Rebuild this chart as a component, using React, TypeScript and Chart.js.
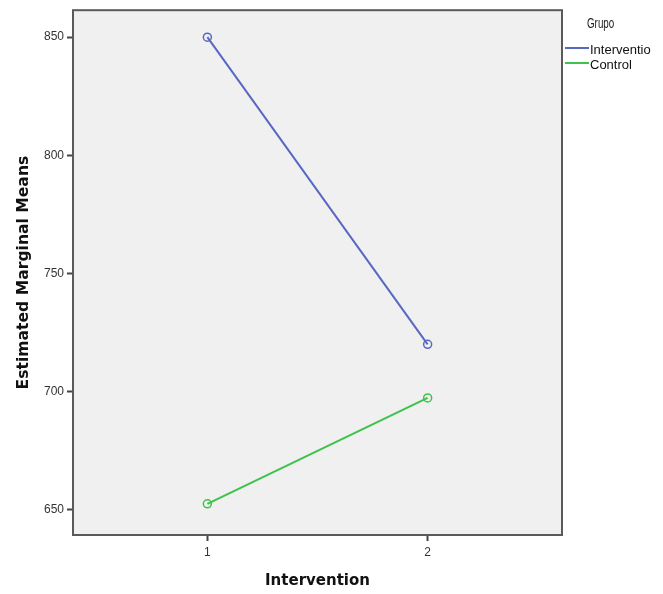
import React, { useEffect, useRef } from "react";
import { Chart, registerables } from "chart.js";

Chart.register(...registerables);

const groups = ["Interventio", "Control"];
const xCategories = [1, 2];
const interventionMeans = [850, 720];
const controlMeans = [652.5, 697.3];
const yTicks = [650, 700, 750, 800, 850];
const groupColors = ["#5868c2", "#3ec24c"];

const bgBorderPlugin = {
  id: "bgBorder",
  beforeDraw(chart: any) {
    const { ctx, chartArea: a } = chart;
    ctx.save();
    ctx.fillStyle = "#f0f0f0";
    ctx.fillRect(a.left, a.top, a.right - a.left, a.bottom - a.top);
    ctx.restore();
  },
  afterDraw(chart: any) {
    const { ctx, chartArea: a } = chart;
    ctx.save();
    ctx.strokeStyle = "#5a5a5a";
    ctx.lineWidth = 2;
    ctx.strokeRect(a.left, a.top, a.right - a.left, a.bottom - a.top);
    // legend
    ctx.fillStyle = "#222";
    ctx.textBaseline = "middle";
    ctx.textAlign = "left";
    ctx.save();
    ctx.translate(587, 24);
    ctx.scale(0.7, 1);
    ctx.font = "14px 'Liberation Sans', Arial";
    ctx.fillText("Grupo", 0, 0);
    ctx.restore();
    ctx.font = "13px 'Liberation Sans', Arial";
    const ys = [48, 63];
    groups.forEach((g, i) => {
      ctx.strokeStyle = groupColors[i];
      ctx.lineWidth = 2;
      ctx.beginPath();
      ctx.moveTo(565, ys[i]);
      ctx.lineTo(589, ys[i]);
      ctx.stroke();
      ctx.fillStyle = "#111";
      ctx.fillText(g, 590, ys[i] + 2);
    });
    ctx.restore();
  },
};

export default function App() {
  const ref = useRef<HTMLCanvasElement>(null);
  useEffect(() => {
    const canvas = ref.current!;
    const chart = new Chart(canvas, {
      type: "line",
      data: {
        datasets: [
          {
            label: groups[0],
            data: xCategories.map((x, i) => ({ x, y: interventionMeans[i] })),
            borderColor: groupColors[0],
            backgroundColor: "rgba(0,0,0,0)",
            borderWidth: 2,
            pointRadius: 4,
            pointBorderWidth: 1.5,
            pointBorderColor: groupColors[0],
            pointBackgroundColor: "rgba(0,0,0,0)",
          },
          {
            label: groups[1],
            data: xCategories.map((x, i) => ({ x, y: controlMeans[i] })),
            borderColor: groupColors[1],
            backgroundColor: "rgba(0,0,0,0)",
            borderWidth: 2,
            pointRadius: 4,
            pointBorderWidth: 1.5,
            pointBorderColor: groupColors[1],
            pointBackgroundColor: "rgba(0,0,0,0)",
          },
        ],
      },
      options: {
        responsive: false,
        animation: false,
        devicePixelRatio: 1,
        layout: { padding: { top: 7, right: 101, left: 0, bottom: 0 } },
        plugins: { legend: { display: false }, tooltip: { enabled: false } },
        scales: {
          x: {
            type: "linear",
            min: 0.39,
            max: 2.61,
            afterBuildTicks: (s: any) => {
              s.ticks = xCategories.map((v) => ({ value: v }));
            },
            afterFit: (s: any) => {
              s.height = 59;
            },
            grid: {
              drawOnChartArea: false,
              drawTicks: true,
              tickLength: 6,
              tickWidth: 2,
              tickColor: "#444",
            },
            border: { display: false },
            ticks: {
              padding: 4,
              color: "#333",
              font: { family: "'Liberation Sans', Arial", size: 12 },
            },
            title: {
              display: true,
              text: "Intervention",
              color: "#111",
              font: { family: "'DejaVu Sans'", size: 15, weight: "bold" },
              padding: { top: 0, bottom: 4 },
            },
          },
          y: {
            type: "linear",
            min: 639.3,
            max: 861.4,
            afterBuildTicks: (s: any) => {
              s.ticks = yTicks.map((v) => ({ value: v }));
            },
            afterFit: (s: any) => {
              s.width = 73;
            },
            grid: {
              drawOnChartArea: false,
              drawTicks: true,
              tickLength: 6,
              tickWidth: 2,
              tickColor: "#444",
            },
            border: { display: false },
            ticks: {
              padding: 3,
              color: "#333",
              font: { family: "'Liberation Sans', Arial", size: 12 },
            },
            title: {
              display: true,
              text: "Estimated Marginal Means",
              color: "#111",
              font: { family: "'DejaVu Sans'", size: 15.6, weight: "bold" },
              padding: { top: 15, bottom: 0 },
            },
          },
        },
      },
      plugins: [bgBorderPlugin],
    } as any);
    return () => chart.destroy();
  }, []);
  return (
    <div style={{ position: "absolute", left: 0, top: 0, width: 663, height: 594, background: "#fff" }}>
      <canvas ref={ref} width={663} height={594} />
    </div>
  );
}
